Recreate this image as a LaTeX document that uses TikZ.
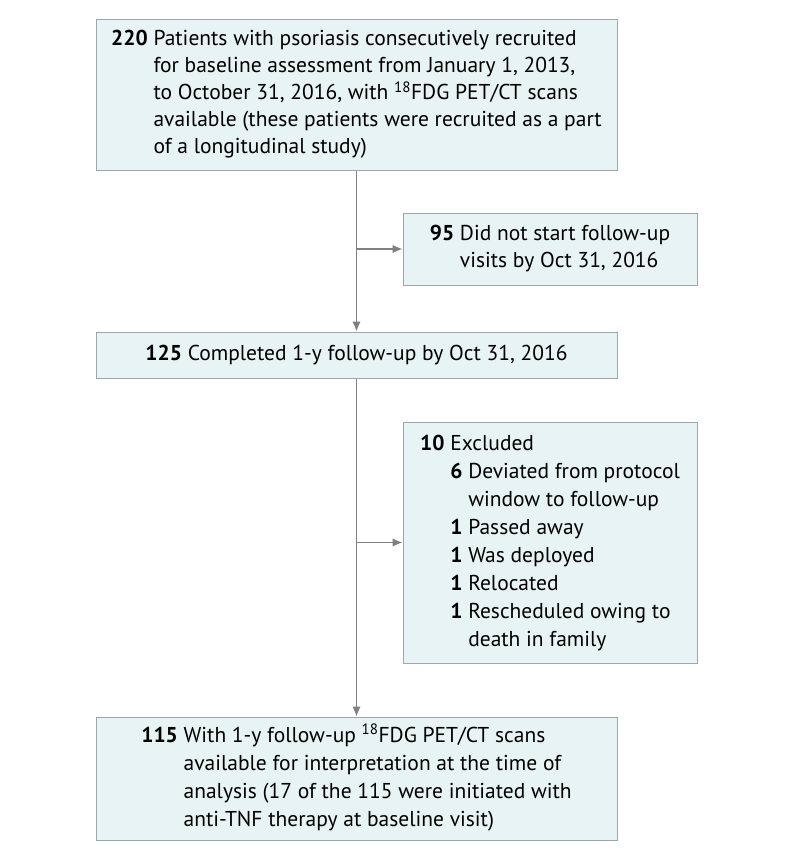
\documentclass[tikz,border=0pt]{standalone}
\usepackage{fontspec}
\setmainfont{PT Sans}
\usetikzlibrary{positioning, arrows.meta}
\definecolor{boxfill}{RGB}{232,243,245}
\definecolor{boxline}{RGB}{158,166,170}
\definecolor{flowline}{RGB}{128,128,128}
\newcommand{\boxfont}{\fontsize{21.5}{27}\selectfont}
\newcommand{\loosefont}{\fontsize{21.5}{28}\selectfont}
\tikzset{
	mainbox/.style={
		rectangle,
		draw=boxline,
		fill=boxfill,
		line width=1pt,
		minimum width=521pt,
		inner sep=0pt,
		font=\boxfont,
	},
	sidebox/.style={
		rectangle,
		draw=boxline,
		fill=boxfill,
		line width=1pt,
		minimum width=294pt,
		inner sep=0pt,
		font=\boxfont,
	},
	flow/.style={
		draw=flowline,
		line width=1.3pt,
	},
}
\begin{document}
\begin{tikzpicture}[>={Latex[length=10pt,width=8.5pt]}]
		\useasboundingbox (0pt,0pt) rectangle (794pt,-860pt);
		% Place nodes
		\node [mainbox, minimum height=151pt] (n220) at (356.5pt,-94.5pt) {%
			\begin{tabular}{@{}r@{\ }l@{}}
				\textbf{220} & Patients with psoriasis consecutively recruited\\
				& for baseline assessment from January 1, 2013,\\
				& to October 31, 2016, with \textsuperscript{18}FDG PET/CT scans\\
				& available (these patients were recruited as a part\\
				& of a longitudinal study)
			\end{tabular}};
		\node [mainbox, minimum height=46pt, below=161pt of n220] (n125) {%
			\textbf{125} Completed 1-y follow-up by Oct 31, 2016};
		\node [mainbox, minimum height=123pt, below=338pt of n125, font=\loosefont] (n115) {%
			\begin{tabular}{@{}r@{\ }l@{}}
				\textbf{115} & With 1-y follow-up \textsuperscript{18}FDG PET/CT scans\\
				& available for interpretation at the time of\\
				& analysis (17 of the 115 were initiated with\\
				& anti-TNF therapy at baseline visit)
			\end{tabular}};
		
		\node [sidebox, minimum height=72pt] (n95) at (550pt,-249pt) {%
			\begin{tabular}{@{}r@{\ }l@{}}
				\textbf{95} & Did not start follow-up\\
				& visits by Oct 31, 2016
			\end{tabular}};
		\node [sidebox, minimum height=241pt, font=\loosefont] (n10) at (550pt,-542.5pt) {%
			\begin{tabular}{@{}r@{\ }r@{\ }l@{}}
				\textbf{10} & \multicolumn{2}{@{}l@{}}{Excluded}\\
				& \textbf{6} & Deviated from protocol\\
				& & window to follow-up\\
				& \textbf{1} & Passed away\\
				& \textbf{1} & Was deployed\\
				& \textbf{1} & Relocated\\
				& \textbf{1} & Rescheduled owing to\\
				& & death in family
			\end{tabular}};
		
		% Connectors
		\draw [flow, ->] (n220) -- (n125);
		\draw [flow, ->] (n220.south |- n95) -- (n95);
		\draw [flow, ->] (n125) -- (n115);
		\draw [flow, ->] (n125.south |- n10) -- (n10);
	\end{tikzpicture}
\end{document}
